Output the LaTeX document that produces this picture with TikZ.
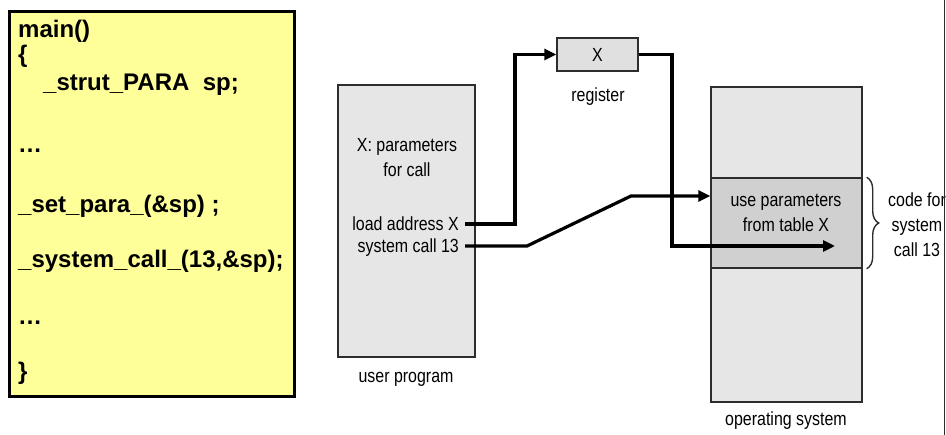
\documentclass[tikz,border=0pt]{standalone}
\usepackage{fontspec}
\setmainfont{Liberation Sans}
\newfontfamily\narrowfont[FakeStretch=0.84]{Liberation Sans}
\usetikzlibrary{positioning,arrows.meta,decorations.pathreplacing}
\definecolor{codeyellow}{RGB}{255,255,153}
\definecolor{memgray}{RGB}{230,230,230}
\definecolor{reggray}{RGB}{224,224,224}
\definecolor{bandgray}{RGB}{208,208,208}
\definecolor{edgegray}{RGB}{45,45,45}
\tikzset{codebox/.style={draw=black, line width=3pt, fill=codeyellow, minimum width=285pt, minimum height=385pt, inner sep=0pt},
codeline/.style={anchor=base west, inner sep=0pt, font=\fontsize{24}{28}\selectfont\bfseries},
memnode/.style={draw=edgegray, line width=1.4pt, fill=memgray, inner sep=0pt},
lbl/.style={font=\narrowfont\fontsize{19}{25}\selectfont, align=center, inner sep=0pt},
stmt/.style={lbl, anchor=east, inner xsep=6pt, text height=13pt, text depth=0pt},
conn/.style={line width=3.2pt, -{Triangle[length=12pt,width=11pt]}},}

\begin{document}
\begin{tikzpicture}[x=1pt,y=-1pt]
\useasboundingbox (0,0) rectangle (946,435);
% the C program
\node [codebox] (code) at (152,204) {};
\node [codeline] (l1) at (18,38) {main()};
\node [codeline] (l2) at (18,63) {\{};
\node [codeline] (l3) at (43,91) {\_strut\_PARA\ \ sp;};
\node [codeline] (l4) at (18,153) {…};
\node [codeline] (l5) at (18,213) {\_set\_para\_(\&sp) ;};
\node [codeline] (l6) at (18,268) {\_system\_call\_(13,\&sp);};
\node [codeline] (l7) at (18,325) {…};
\node [codeline] (l8) at (18,380) {\}};
% user program
\node [memnode, minimum width=137pt, minimum height=272pt] (uprog) at (406.5,221) {};
\node [lbl] (uplbl) at (406,379) {user program};
\node [lbl] (params) at (407,158) {X: parameters\\for call};
\node [stmt] (ldx) at (465,224) {load address X};
\node [stmt] (sc13) at (465,246) {system call 13};
% register
\node [memnode, fill=reggray, minimum width=81pt, minimum height=33pt, font=\narrowfont\fontsize{19}{22}\selectfont] (reg) at (597.5,54.5) {X};
\node [lbl] (reglbl) at (598,97) {register};
% operating system
\node [memnode, minimum width=151pt, minimum height=315pt] (os) at (786.5,244.5) {};
\node [memnode, fill=bandgray, minimum width=151pt, minimum height=90pt] (band) at (786.5,223) {};
\node [lbl] (bandtxt) at (786,213) {use parameters\\from table X};
\node [lbl] (oslbl) at (786,421) {operating system};
\draw [edgegray, line width=1.4pt, decorate, decoration={brace, amplitude=12pt}] ([xshift=4pt]band.north east) -- ([xshift=4pt]band.south east);
\node [lbl] (codefor) at (917,225) {code for\\system\\call 13};
% arrows
\coordinate (bandin) at (band.west |- 0,196);
\coordinate (tipx) at (835,246);
\draw [conn] (sc13.east) -- ++(62,0) -- (631,196) -- (bandin);
\draw [conn] (ldx.east) -- ++(50,0) |- (reg.west);
\draw [conn] (reg.east) -| (672,246) -- (tipx);
\draw [edgegray, line width=1.4pt] (944.5,0) -- (944.5,435);
\end{tikzpicture}
\end{document}
